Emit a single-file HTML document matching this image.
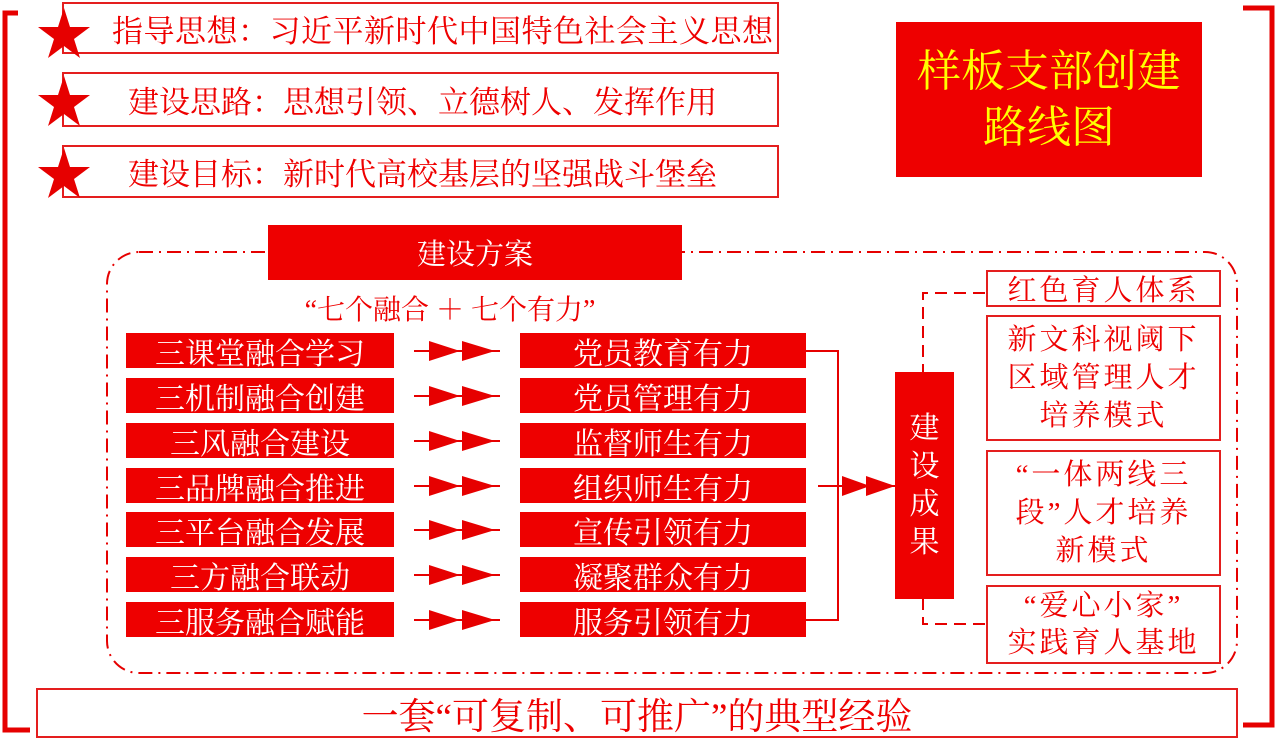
<!DOCTYPE html>
<html><head><meta charset="utf-8"><style>
body{margin:0;width:1279px;height:738px;overflow:hidden;background:#fff;font-family:"Liberation Serif","Noto Serif CJK SC","Noto Sans CJK SC",serif;}
.a{position:absolute;box-sizing:border-box;display:flex;align-items:center;justify-content:center;white-space:nowrap;}
.ob{border:2px solid #e41e1e;color:#e00;background:#fff;}
.fb{background:#ee0000;color:#fff;}
.c{flex-direction:column;text-align:center;}
</style></head><body>
<svg width="1279" height="738" style="position:absolute;left:0;top:0">
<g fill="none" stroke="#e60000">
<polyline points="18,13 5,13 5,730 30,730" stroke-width="5"/>
<polyline points="1243,8 1272,8 1272,725 1243,725" stroke-width="5"/>
<rect x="107" y="252" width="1130" height="421" rx="32" stroke-width="2" stroke-dasharray="14,6,2,6"/>
<polyline points="806,351 838,351 838,620 806,620" stroke-width="2"/>
<polyline points="985,293 923,293 923,372" stroke-width="2" stroke-dasharray="12,7"/>
<polyline points="923,598 923,624 985,624" stroke-width="2" stroke-dasharray="12,7"/>
<line x1="818" y1="486" x2="895" y2="486" stroke-width="2"/>
</g>
<g fill="#e60000">
<polygon points="842,476 870,486 842,496"/><polygon points="866,476 895,486 866,496"/>
</g>
<g stroke="#e60000" stroke-width="2" fill="#e60000">
<g id="ar"><line x1="414" y1="351" x2="500" y2="351"/><polygon stroke="none" points="429,341 460,351 429,361"/><polygon stroke="none" points="462,341 495,351 462,361"/></g>
<use href="#ar" y="45"/><use href="#ar" y="90"/><use href="#ar" y="135"/><use href="#ar" y="179"/><use href="#ar" y="224"/><use href="#ar" y="269"/>
</g>
</svg>
<div class="a ob" style="left:62px;top:2px;width:717px;height:52px;font-size:31px;justify-content:flex-start;padding-left:48px;letter-spacing:0.5px">指导思想：习近平新时代中国特色社会主义思想</div>
<div class="a ob" style="left:62px;top:72px;width:717px;height:55px;font-size:31px;justify-content:flex-start;padding-left:64px">建设思路：思想引领、立德树人、发挥作用</div>
<div class="a ob" style="left:62px;top:145px;width:717px;height:53px;font-size:31px;justify-content:flex-start;padding-left:64px">建设目标：新时代高校基层的坚强战斗堡垒</div>
<svg width="1279" height="738" style="position:absolute;left:0;top:0;pointer-events:none">
<g fill="#e60000">
<polygon points="64,8 70,27 90,27 74,39 80,58 64,46 48,58 54,39 38,27 58,27"/>
<polygon points="64,76 70,95 90,95 74,107 80,126 64,114 48,126 54,107 38,95 58,95"/>
<polygon points="64,148 70,167 90,167 74,179 80,198 64,186 48,198 54,179 38,167 58,167"/>
</g></svg>
<div class="a fb c" style="left:896px;top:22px;width:306px;height:155px;color:#ffff00;font-size:44px;line-height:56px">样板支部创建<br>路线图</div>
<div class="a fb" style="left:268px;top:225px;width:414px;height:55px;font-size:29px">建设方案</div>
<div class="a" style="left:250px;top:290px;width:400px;height:36px;font-size:28px;color:#e00">“七个融合 ＋ 七个有力”</div>
<div class="a fb" style="left:126px;top:333px;width:268px;height:35px;font-size:30px">三课堂融合学习</div>
<div class="a fb" style="left:126px;top:378px;width:268px;height:35px;font-size:30px">三机制融合创建</div>
<div class="a fb" style="left:126px;top:423px;width:268px;height:35px;font-size:30px">三风融合建设</div>
<div class="a fb" style="left:126px;top:468px;width:268px;height:35px;font-size:30px">三品牌融合推进</div>
<div class="a fb" style="left:126px;top:512px;width:268px;height:35px;font-size:30px">三平台融合发展</div>
<div class="a fb" style="left:126px;top:557px;width:268px;height:35px;font-size:30px">三方融合联动</div>
<div class="a fb" style="left:126px;top:602px;width:268px;height:35px;font-size:30px">三服务融合赋能</div>
<div class="a fb" style="left:520px;top:333px;width:286px;height:35px;font-size:30px">党员教育有力</div>
<div class="a fb" style="left:520px;top:378px;width:286px;height:35px;font-size:30px">党员管理有力</div>
<div class="a fb" style="left:520px;top:423px;width:286px;height:35px;font-size:30px">监督师生有力</div>
<div class="a fb" style="left:520px;top:468px;width:286px;height:35px;font-size:30px">组织师生有力</div>
<div class="a fb" style="left:520px;top:512px;width:286px;height:35px;font-size:30px">宣传引领有力</div>
<div class="a fb" style="left:520px;top:557px;width:286px;height:35px;font-size:30px">凝聚群众有力</div>
<div class="a fb" style="left:520px;top:602px;width:286px;height:35px;font-size:30px">服务引领有力</div>
<div class="a fb c" style="left:895px;top:372px;width:59px;height:227px;font-size:30px;line-height:38px">建<br>设<br>成<br>果</div>
<div class="a ob" style="left:986px;top:270px;width:235px;height:37px;font-size:29px;letter-spacing:3px">红色育人体系</div>
<div class="a ob c" style="left:986px;top:315px;width:235px;height:126px;font-size:29px;line-height:38px;letter-spacing:3px">新文科视阈下<br>区域管理人才<br>培养模式</div>
<div class="a ob c" style="left:986px;top:450px;width:235px;height:126px;font-size:29px;line-height:38px;letter-spacing:3px">“一体两线三<br>段”人才培养<br>新模式</div>
<div class="a ob c" style="left:986px;top:585px;width:235px;height:79px;font-size:29px;line-height:37px;letter-spacing:3px">“爱心小家”<br>实践育人基地</div>
<div class="a ob" style="left:36px;top:688px;width:1202px;height:50px;font-size:37px">一套“可复制、可推广”的典型经验</div>
</body></html>
